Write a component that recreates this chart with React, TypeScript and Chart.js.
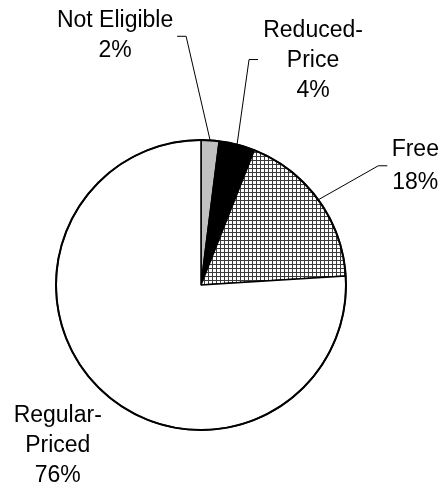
import React, { useEffect, useRef } from "react";
import { Chart, registerables } from "chart.js";

Chart.register(...registerables);

const categories = ["Not Eligible", "Reduced-Price", "Free", "Regular-Priced"];
const labelLines = [["Not Eligible"], ["Reduced-", "Price"], ["Free"], ["Regular-", "Priced"]];
const percentages = [2, 4, 18, 76];

// label placement styling (offsets relative to each slice's outer mid-point)
const labelLayout = [
  { leader: true, elbow: [-24, -104], hlen: -9, text: [-62, -9], lh: 30 },
  { leader: true, elbow: [12, -85], hlen: 9, text: [55, -23], lh: 30 },
  { leader: true, elbow: [60, -34], hlen: 9, text: [28, -10], lh: 33 },
  { leader: false, elbow: [0, 0], hlen: 0, text: [-44, 31], lh: 30 },
];

const FONT = '23px "Liberation Sans", Arial, sans-serif';

export default function App() {
  const ref = useRef<HTMLCanvasElement | null>(null);

  useEffect(() => {
    const canvas = ref.current;
    if (!canvas) return;
    const ctx = canvas.getContext("2d")!;

    const pc = document.createElement("canvas");
    pc.width = 4;
    pc.height = 4;
    const pctx = pc.getContext("2d")!;
    pctx.fillStyle = "#ffffff";
    pctx.fillRect(0, 0, 4, 4);
    pctx.fillStyle = "#3a3a3a";
    pctx.fillRect(0, 0, 4, 1);
    pctx.fillRect(0, 0, 1, 4);
    const pattern = ctx.createPattern(pc, "repeat")!;

    const labelPlugin = {
      id: "pieLabels",
      afterDatasetsDraw(chart: any) {
        const c = chart.ctx as CanvasRenderingContext2D;
        const meta = chart.getDatasetMeta(0);
        const a0 = meta.data[0];
        if (!a0) return;
        const p0 = a0.getProps(["x", "y", "outerRadius"], true);
        c.save();
        c.beginPath();
        c.arc(p0.x, p0.y, p0.outerRadius, 0, Math.PI * 2);
        c.lineWidth = 2;
        c.strokeStyle = "#000";
        c.stroke();
        c.restore();

        meta.data.forEach((arc: any, i: number) => {
          const { x, y, startAngle, endAngle, outerRadius } = arc.getProps(
            ["x", "y", "startAngle", "endAngle", "outerRadius"],
            true
          );
          const mid = (startAngle + endAngle) / 2;
          const ex = x + Math.cos(mid) * outerRadius;
          const ey = y + Math.sin(mid) * outerRadius;
          const lay = labelLayout[i];
          let tx = ex;
          let ty = ey;
          c.save();
          if (lay.leader) {
            const lx = ex + lay.elbow[0];
            const ly = ey + lay.elbow[1];
            const hx = lx + lay.hlen;
            c.beginPath();
            c.moveTo(ex, ey);
            c.lineTo(lx, ly);
            c.lineTo(hx, ly);
            c.lineWidth = 1;
            c.strokeStyle = "#000";
            c.stroke();
            tx = hx;
            ty = ly;
          }
          const lines = [...labelLines[i], `${percentages[i]}%`];
          c.font = FONT;
          c.fillStyle = "#000";
          c.textAlign = "center";
          c.textBaseline = "alphabetic";
          lines.forEach((t, k) => {
            c.fillText(t, tx + lay.text[0], ty + lay.text[1] + k * lay.lh);
          });
          c.restore();
        });
      },
    };

    const chart = new Chart(canvas, {
      type: "pie",
      data: {
        labels: categories,
        datasets: [
          {
            data: percentages,
            backgroundColor: ["#c0c0c0", "#000000", pattern, "#ffffff"],
            borderColor: "#000000",
            borderWidth: 1.5,
            radius: 145,
          } as any,
        ],
      },
      options: {
        responsive: false,
        animation: false,
        events: [],
        layout: { padding: { left: 51, right: 88, top: 135, bottom: 54 } },
        plugins: {
          legend: { display: false },
          tooltip: { enabled: false },
        },
      },
      plugins: [labelPlugin],
    });

    return () => chart.destroy();
  }, []);

  return (
    <div style={{ position: "absolute", left: 0, top: 0, width: 439, height: 489, background: "#fff" }}>
      <canvas ref={ref} width={439} height={489} style={{ display: "block" }} />
    </div>
  );
}
